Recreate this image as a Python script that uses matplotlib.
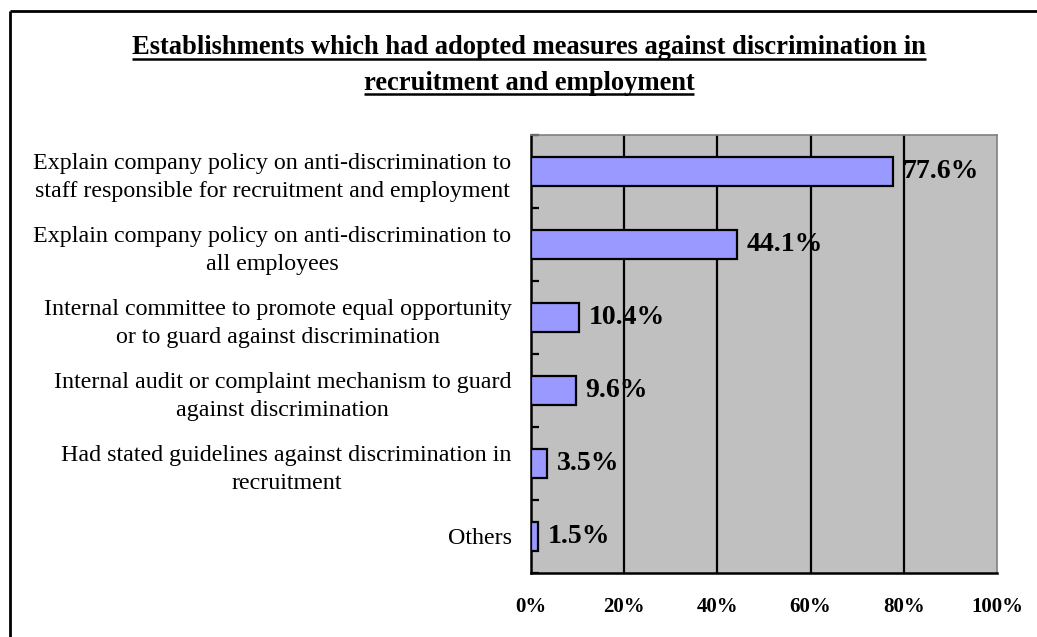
import matplotlib
matplotlib.use("Agg")
import matplotlib.pyplot as plt
from matplotlib.lines import Line2D

# measures, top to bottom, with share of establishments (%)
measures = [
    "Explain company policy on anti-discrimination to\nstaff responsible for recruitment and employment",
    "Explain company policy on anti-discrimination to\nall employees",
    "Internal committee to promote equal opportunity\nor to guard against discrimination",
    "Internal audit or complaint mechanism to guard\nagainst discrimination",
    "Had stated guidelines against discrimination in\nrecruitment",
    "Others",
]
shares = [77.6, 44.1, 10.4, 9.6, 3.5, 1.5]
x_ticks = [0, 20, 40, 60, 80, 100]
title_lines = [
    "Establishments which had adopted measures against discrimination in",
    "recruitment and employment",
]

SERIF = "Liberation Serif"
W, H = 1037, 637

fig = plt.figure(figsize=(W / 100, H / 100), dpi=100)
fig.patch.set_facecolor("white")
ax = fig.add_axes([531 / W, 1 - 573 / H, (997 - 531) / W, (573 - 135) / H])
ax.set_facecolor("#C0C0C0")

ypos = list(range(len(measures)))
ax.barh(ypos, shares, height=0.4, color="#9999FF", edgecolor="black", linewidth=1.6, zorder=3)

for y, v in zip(ypos, shares):
    ax.annotate(f"{v:.1f}%", xy=(v, y), xytext=(7, 0), textcoords="offset points",
                ha="left", va="center", fontsize=20, fontweight="bold",
                family=SERIF, zorder=4)

ax.set_xlim(0, 100)
ax.set_ylim(len(measures) - 0.5, -0.5)

# vertical gridlines
for t in x_ticks[1:-1]:
    ax.axvline(t, color="black", linewidth=1.6, zorder=1)

ax.set_xticks(x_ticks)
ax.set_xticklabels([f"{t}%" for t in x_ticks], fontsize=15, fontweight="bold", family=SERIF)
ax.tick_params(axis="x", length=0, pad=17)

ax.set_yticks(ypos)
ax.set_yticklabels(measures, fontsize=17.3, family=SERIF, ha="right",
                   multialignment="center", linespacing=1.42)
ax.tick_params(axis="y", which="major", length=0, pad=14)
ax.set_yticks([i - 0.5 for i in range(len(measures) + 1)], minor=True)
ax.tick_params(axis="y", which="minor", direction="in", length=6, width=1.6, color="black")

for side in ["top", "right"]:
    ax.spines[side].set_color("#808080")
    ax.spines[side].set_linewidth(1.2)
for side in ["left", "bottom"]:
    ax.spines[side].set_color("black")
    ax.spines[side].set_linewidth(1.8)

# outer frame (left and top edges visible)
fig.add_artist(Line2D([10 / W, 10 / W], [0, 1 - 10.5 / H], transform=fig.transFigure,
                      color="black", linewidth=2, solid_capstyle="butt"))
fig.add_artist(Line2D([10 / W, 1], [1 - 10.5 / H, 1 - 10.5 / H], transform=fig.transFigure,
                      color="black", linewidth=2, solid_capstyle="butt"))

# underlined bold title
renderer = fig.canvas.get_renderer()
for line, base in zip(title_lines, [54.5, 89.5]):
    t = fig.text(529 / W, 1 - base / H, line, ha="center", va="baseline",
                 fontsize=19.1, fontweight="bold", family=SERIF)
    bb = t.get_window_extent(renderer)
    uy = 1 - (base + 4) / H
    fig.add_artist(Line2D([bb.x0 / W, bb.x1 / W], [uy, uy], transform=fig.transFigure,
                          color="black", linewidth=1.8, solid_capstyle="butt"))

fig.savefig("out.png", dpi=100)
